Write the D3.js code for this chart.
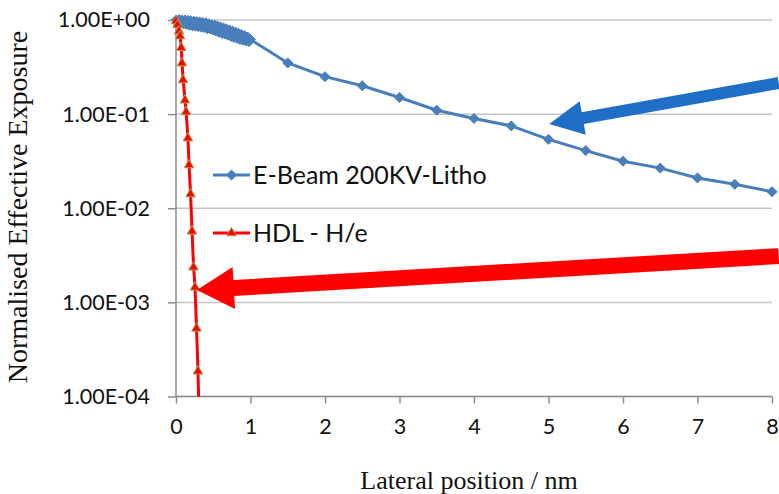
<!DOCTYPE html>
<html>
<head>
<meta charset="utf-8">
<script src="https://cdn.jsdelivr.net/npm/d3@7"></script>
<style>
  body { margin: 0; background: #fff; }
  svg { display: block; }
</style>
</head>
<body>
<div id="chart"></div>
<script>
// E-Beam: dense samples 0..1 nm then every 0.5 nm
const ebeamX = [0, 0.02, 0.04, 0.06, 0.08, 0.10, 0.12, 0.14, 0.16, 0.18, 0.20, 0.22, 0.24, 0.26, 0.28,
  0.30, 0.32, 0.34, 0.36, 0.38, 0.40, 0.42, 0.44, 0.46, 0.48, 0.50, 0.52, 0.54, 0.56, 0.58, 0.60,
  0.62, 0.64, 0.66, 0.68, 0.70, 0.72, 0.74, 0.76, 0.78, 0.80, 0.82, 0.84, 0.86, 0.88, 0.90, 0.92,
  0.94, 0.96, 0.98, 1.00, 1.5, 2, 2.5, 3, 3.5, 4, 4.5, 5, 5.5, 6, 6.5, 7, 7.5, 8];
const ebeamY = [1.00, 0.93, 1.01, 0.92, 1.00, 0.91, 1.00, 0.90, 0.99, 0.88, 0.98, 0.87, 0.97, 0.86, 0.96,
  0.85, 0.95, 0.84, 0.94, 0.83, 0.93, 0.81, 0.91, 0.80, 0.89, 0.78, 0.88, 0.76, 0.86, 0.74, 0.84,
  0.72, 0.82, 0.71, 0.80, 0.69, 0.78, 0.67, 0.76, 0.65, 0.74, 0.64, 0.72, 0.62, 0.70, 0.61, 0.68,
  0.60, 0.66, 0.59, 0.62, 0.35, 0.25, 0.20, 0.15, 0.11, 0.09, 0.075, 0.054, 0.041, 0.0316, 0.0267,
  0.021, 0.018, 0.015];

// HDL - H/e
const hdlX = [0, 0.02, 0.04, 0.055, 0.07, 0.08, 0.095, 0.12, 0.135, 0.16, 0.175, 0.195, 0.215,
  0.235, 0.255, 0.275, 0.295, 0.31];
const hdlY = [1.0, 0.91, 0.78, 0.69, 0.52, 0.357, 0.236, 0.144, 0.108, 0.057, 0.0295, 0.0145,
  0.00583, 0.00242, 0.00148, 0.000542, 0.00019, 0.00006];

const seriesNames = ['E-Beam 200KV-Litho', 'HDL - H/e'];
const xTicks = [0, 1, 2, 3, 4, 5, 6, 7, 8];
const yTicks = [1, 0.1, 0.01, 0.001, 0.0001];
const yTickLabels = ['1.00E+00', '1.00E-01', '1.00E-02', '1.00E-03', '1.00E-04'];

// annotation arrows [tailX, tailY, tipX, tipY] in data units
const blueArrow = [8.09, 0.214, 5.01, 0.0785];
const redArrow = [8.09, 0.0031, 0.28, 0.00135];

const margin = { top: 20, right: 7, bottom: 97.5, left: 176 };
const width = 779 - margin.left - margin.right;
const height = 494 - margin.top - margin.bottom;

const svg = d3.select('#chart')
  .append('svg')
  .attr('width', 779)
  .attr('height', 494);

const g = svg.append('g')
  .attr('transform', `translate(${margin.left},${margin.top})`);

const x = d3.scaleLinear().domain([0, 8]).range([0, width]);
const y = d3.scaleLog().domain([1e-4, 1]).range([height, 0]);

// gridlines
g.selectAll('.grid')
  .data(yTicks)
  .join('line')
  .attr('x1', 0)
  .attr('x2', width)
  .attr('y1', d => y(d))
  .attr('y2', d => y(d))
  .attr('stroke', '#c4c4c4')
  .attr('stroke-width', 1.5);

// axes
const yAxis = g.append('g')
  .call(d3.axisLeft(y).tickValues(yTicks).tickSize(8).tickPadding(18)
    .tickFormat((d, i) => yTickLabels[i]));
const xAxis = g.append('g')
  .attr('transform', `translate(0,${height})`)
  .call(d3.axisBottom(x).tickValues(xTicks).tickSize(7).tickPadding(15));

[xAxis, yAxis].forEach(ax => {
  ax.select('.domain').attr('stroke', '#8c8c8c').attr('stroke-width', 1.5);
  ax.selectAll('.tick line').attr('stroke', '#8c8c8c').attr('stroke-width', 1.5);
  ax.selectAll('.tick text')
    .attr('fill', '#111')
    .style('font-family', 'Lato, sans-serif')
    .style('font-size', '21.5px');
});
xAxis.select('.domain').attr('d', `M0.5,0H${width}`);
yAxis.select('.domain').attr('d', `M0,0V${height}`);

// clip series at the x-axis
svg.append('clipPath').attr('id', 'plotclip')
  .append('rect').attr('x', -20).attr('y', -20).attr('width', width + 40).attr('height', height + 20);

const plot = g.append('g').attr('clip-path', 'url(#plotclip)');

const ebeam = ebeamX.map((d, i) => ({ x: d, y: ebeamY[i] }));
const hdl = hdlX.map((d, i) => ({ x: d, y: hdlY[i] }));

const line = d3.line().x(d => x(d.x)).y(d => y(d.y));

const blue = '#4a7ebb';
const red = '#ff0000';

plot.append('path')
  .datum(ebeam)
  .attr('fill', 'none')
  .attr('stroke', blue)
  .attr('stroke-width', 3)
  .attr('d', line);

const diamond = d3.symbol().type(d3.symbolDiamond2).size(64);
const triangle = d3.symbol().type(d3.symbolTriangle2).size(66);

plot.selectAll('.dia')
  .data(ebeam)
  .join('path')
  .attr('transform', d => `translate(${x(d.x)},${y(d.y)})`)
  .attr('d', diamond)
  .attr('fill', blue)
  .attr('stroke', blue)
  .attr('stroke-width', 1);

plot.append('path')
  .datum(hdl)
  .attr('fill', 'none')
  .attr('stroke', red)
  .attr('stroke-width', 3)
  .attr('d', line);

plot.selectAll('.tri')
  .data(hdl)
  .join('path')
  .attr('transform', d => `translate(${x(d.x)},${y(d.y) + 1})`)
  .attr('d', triangle)
  .attr('fill', red)
  .attr('stroke', '#a5a04a')
  .attr('stroke-width', 1);

// legend
const legend = g.append('g');
const legendRows = [
  { name: seriesNames[0], color: blue, sym: diamond, stroke: blue, yy: 155 },
  { name: seriesNames[1], color: red, sym: triangle, stroke: '#a5a04a', yy: 213 }
];
legendRows.forEach(r => {
  legend.append('line')
    .attr('x1', 37).attr('x2', 74)
    .attr('y1', r.yy).attr('y2', r.yy)
    .attr('stroke', r.color).attr('stroke-width', 3);
  legend.append('path')
    .attr('transform', `translate(55.5,${r.yy})`)
    .attr('d', r.sym)
    .attr('fill', r.color)
    .attr('stroke', r.stroke);
  legend.append('text')
    .attr('x', 77)
    .attr('y', r.yy)
    .attr('dy', '0.35em')
    .attr('fill', '#111')
    .style('font-family', 'Lato, sans-serif')
    .style('font-size', '25px')
    .text(r.name);
});

// arrows
function arrowPath(a, shaft, headLen, headHalf) {
  const x0 = x(a[0]), y0 = y(a[1]), x1 = x(a[2]), y1 = y(a[3]);
  const dx = x1 - x0, dy = y1 - y0;
  const L = Math.hypot(dx, dy);
  const ux = dx / L, uy = dy / L, nx = -uy, ny = ux;
  const bx = x1 - ux * headLen, by = y1 - uy * headLen;
  const p = [
    [x0 + nx * shaft / 2, y0 + ny * shaft / 2],
    [bx + nx * shaft / 2, by + ny * shaft / 2],
    [bx + nx * headHalf, by + ny * headHalf],
    [x1, y1],
    [bx - nx * headHalf, by - ny * headHalf],
    [bx - nx * shaft / 2, by - ny * shaft / 2],
    [x0 - nx * shaft / 2, y0 - ny * shaft / 2]
  ];
  return 'M' + p.map(q => q.join(',')).join('L') + 'Z';
}

g.append('path')
  .attr('d', arrowPath(blueArrow, 12, 34, 17))
  .attr('fill', '#1f6fc8');
g.append('path')
  .attr('d', arrowPath(redArrow, 16, 37, 21))
  .attr('fill', red);

// axis titles
svg.append('text')
  .attr('x', margin.left + width / 2 - 5)
  .attr('y', 489)
  .attr('text-anchor', 'middle')
  .attr('fill', '#111')
  .style('font-family', '"Liberation Serif", serif')
  .style('font-size', '26px')
  .text('Lateral position / nm');

svg.append('text')
  .attr('transform', `translate(27,207) rotate(-90)`)
  .attr('text-anchor', 'middle')
  .attr('fill', '#111')
  .style('font-family', '"Liberation Serif", serif')
  .style('font-size', '28px')
  .text('Normalised Effective Exposure');
</script>
</body>
</html>
